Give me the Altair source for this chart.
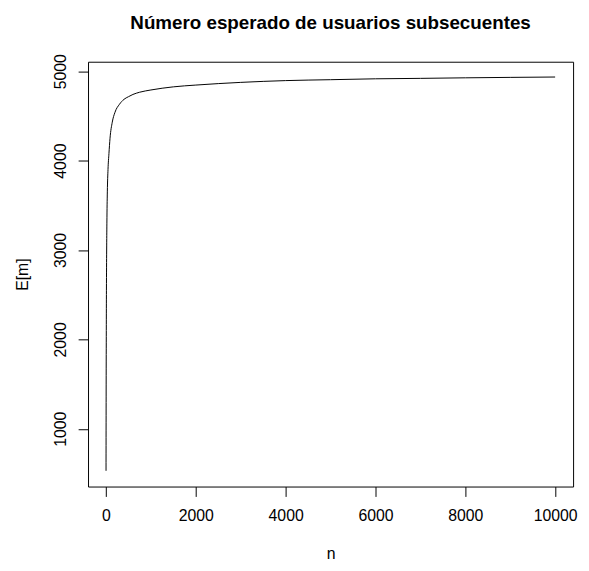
import altair as alt
import pandas as pd

# Values
n_vals = [1, 2, 4, 7, 10, 15, 20, 30, 45, 66, 90, 140, 200, 300, 400, 500, 600, 750,
          1000, 1500, 2000, 3000, 4000, 5000, 6000, 7000, 8000, 9000, 10000]
em_vals = [530, 900, 1500, 2100, 2550, 3000, 3300, 3650, 3900, 4080, 4250, 4430,
           4540, 4630, 4685, 4715, 4740, 4765, 4790, 4825, 4845, 4875, 4895, 4905,
           4915, 4920, 4926, 4931, 4935]
x_ticks = [0, 2000, 4000, 6000, 8000, 10000]
y_ticks = [1000, 2000, 3000, 4000, 5000]
title_text = ["Número esperado de usuarios subsecuentes"]

df = pd.DataFrame({"n": n_vals, "E": em_vals})
tdf = pd.DataFrame({"t": title_text})

FONT = "Liberation Sans"
W, H = 491, 430

line = alt.Chart(df).mark_line(color="black", strokeWidth=1, interpolate="monotone").encode(
    x=alt.X("n:Q",
            scale=alt.Scale(domain=[-399.96, 10399.96], nice=False, zero=False),
            axis=alt.Axis(values=x_ticks, format="d", title="n", grid=False,
                          domain=False, tickSize=10, tickColor="black",
                          labelColor="black", labelFont=FONT, labelFontSize=16,
                          labelPadding=24, labelBaseline="alphabetic",
                          titleFont=FONT, titleFontSize=16, titleFontWeight="normal",
                          titleColor="black", titleY=73, titleX=W / 2,
                          titleAlign="center", titleBaseline="alphabetic")),
    y=alt.Y("E:Q",
            scale=alt.Scale(domain=[354, 5106], nice=False, zero=False),
            axis=alt.Axis(values=y_ticks, format="d", title="E[m]", grid=False,
                          domain=False, tickSize=10, tickColor="black",
                          labelColor="black", labelFont=FONT, labelFontSize=16,
                          labelAngle=270, labelAlign="center",
                          labelBaseline="alphabetic", labelPadding=13,
                          titleFont=FONT, titleFontSize=16, titleFontWeight="normal",
                          titleColor="black", titleAngle=270, titleX=-61, titleY=H / 2,
                          titleAlign="center", titleBaseline="alphabetic")),
)

title = alt.Chart(tdf).mark_text(
    font=FONT, fontSize=19, fontWeight="bold", color="black",
    align="center", baseline="alphabetic", clip=False,
).encode(
    text="t:N",
    x=alt.value(W / 2),
    y=alt.value(-33),
)

chart = alt.layer(line, title).properties(
    width=W,
    height=H,
    autosize="none",
    padding={"left": 81, "top": 51, "right": 8, "bottom": 74},
).configure_view(stroke="black", strokeWidth=1)

chart.save("out.html", embed_options={"renderer": "svg", "actions": False})
